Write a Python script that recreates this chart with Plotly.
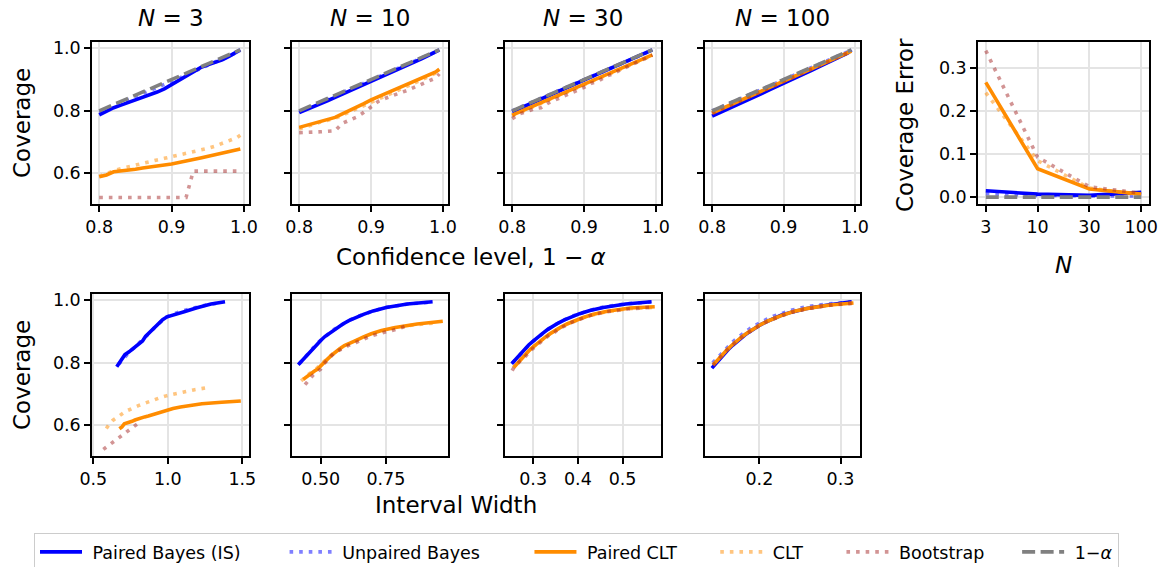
import plotly.graph_objects as go

# ---------------- data ----------------
levels = [0.80, 0.81, 0.82, 0.83, 0.84, 0.85, 0.86, 0.87, 0.88, 0.89, 0.90,
          0.91, 0.92, 0.93, 0.94, 0.95, 0.96, 0.97, 0.98, 0.99, 0.995]
N_labels = ["3", "10", "30", "100"]

# N = 3
pb3_cov = [0.787, 0.800, 0.810, 0.818, 0.826, 0.835, 0.843, 0.850, 0.860, 0.870, 0.884,
           0.898, 0.911, 0.925, 0.938, 0.947, 0.955, 0.963, 0.975, 0.988, 0.995]
pb3_w = [0.657, 0.675, 0.690, 0.700, 0.712, 0.740, 0.760, 0.775, 0.805, 0.830, 0.850,
         0.880, 0.905, 0.935, 0.965, 0.995, 1.060, 1.110, 1.190, 1.290, 1.384]
ub3_cov = [0.795, 0.806, 0.816, 0.826, 0.836, 0.846, 0.855, 0.864, 0.874, 0.884, 0.894,
           0.904, 0.915, 0.926, 0.936, 0.946, 0.956, 0.965, 0.975, 0.986, 0.992]
ub3_w = [0.670, 0.690, 0.705, 0.725, 0.745, 0.770, 0.790, 0.810, 0.835, 0.855, 0.875,
         0.895, 0.915, 0.940, 0.965, 0.990, 1.040, 1.090, 1.170, 1.270, 1.360]
pc3_cov = [0.589, 0.595, 0.605, 0.607, 0.610, 0.613, 0.617, 0.621, 0.624, 0.627, 0.630,
           0.634, 0.639, 0.644, 0.649, 0.654, 0.659, 0.664, 0.669, 0.674, 0.678]
pc3_w = [0.675, 0.692, 0.708, 0.724, 0.742, 0.760, 0.779, 0.799, 0.821, 0.844, 0.869,
         0.895, 0.925, 0.957, 0.993, 1.035, 1.085, 1.146, 1.229, 1.361, 1.490]
clt3_cov = [0.590, 0.600, 0.608, 0.615, 0.621, 0.627, 0.633, 0.638, 0.643, 0.648, 0.653,
            0.658, 0.663, 0.668, 0.674, 0.680, 0.687, 0.695, 0.703, 0.714, 0.722]
clt3_w = [0.587, 0.600, 0.614, 0.628, 0.644, 0.660, 0.676, 0.693, 0.712, 0.732, 0.753,
          0.776, 0.802, 0.830, 0.862, 0.898, 0.941, 0.994, 1.065, 1.180, 1.286]
bs3_cov = [0.523, 0.523, 0.523, 0.523, 0.523, 0.523, 0.523, 0.523, 0.523, 0.523, 0.523,
           0.523, 0.523, 0.607, 0.607, 0.607, 0.607, 0.607, 0.607, 0.607, 0.607]
bs3_w = [0.567, 0.567, 0.567, 0.567, 0.567, 0.567, 0.567, 0.567, 0.567, 0.567, 0.567,
         0.567, 0.567, 0.802, 0.802, 0.802, 0.802, 0.802, 0.802, 0.802, 0.802]

# N = 10
pb10_cov = [0.794, 0.803, 0.813, 0.823, 0.833, 0.843, 0.853, 0.863, 0.873, 0.884, 0.894,
            0.904, 0.914, 0.924, 0.935, 0.945, 0.955, 0.966, 0.977, 0.988, 0.995]
pb10_w = [0.414, 0.424, 0.433, 0.443, 0.454, 0.465, 0.477, 0.489, 0.502, 0.516, 0.532,
          0.548, 0.566, 0.585, 0.608, 0.633, 0.664, 0.701, 0.751, 0.832, 0.929]
ub10_cov = [0.797, 0.807, 0.817, 0.827, 0.837, 0.847, 0.857, 0.867, 0.877, 0.887, 0.897,
            0.907, 0.917, 0.927, 0.937, 0.947, 0.957, 0.967, 0.978, 0.988, 0.994]
ub10_w = [0.418, 0.428, 0.437, 0.447, 0.458, 0.469, 0.481, 0.493, 0.506, 0.520, 0.536,
          0.552, 0.570, 0.589, 0.612, 0.637, 0.668, 0.705, 0.756, 0.836, 0.925]
pc10_cov = [0.747, 0.754, 0.761, 0.768, 0.773, 0.779, 0.790, 0.800, 0.811, 0.823, 0.835,
            0.845, 0.855, 0.864, 0.872, 0.882, 0.893, 0.903, 0.913, 0.924, 0.933]
pc10_w = [0.433, 0.443, 0.453, 0.464, 0.475, 0.487, 0.499, 0.511, 0.525, 0.540, 0.556,
          0.573, 0.591, 0.612, 0.636, 0.662, 0.694, 0.733, 0.786, 0.870, 0.968]
clt10_cov = [0.742, 0.750, 0.757, 0.764, 0.770, 0.776, 0.786, 0.796, 0.806, 0.817, 0.828,
             0.838, 0.848, 0.857, 0.866, 0.876, 0.887, 0.898, 0.909, 0.921, 0.928]
clt10_w = [0.425, 0.435, 0.444, 0.455, 0.466, 0.477, 0.489, 0.501, 0.515, 0.530, 0.545,
           0.562, 0.580, 0.600, 0.623, 0.649, 0.680, 0.718, 0.770, 0.853, 0.950]
bs10_cov = [0.730, 0.730, 0.732, 0.733, 0.734, 0.736, 0.760, 0.770, 0.780, 0.795, 0.812,
            0.830, 0.840, 0.850, 0.857, 0.865, 0.875, 0.885, 0.895, 0.905, 0.918]
bs10_w = [0.440, 0.440, 0.442, 0.443, 0.445, 0.447, 0.470, 0.485, 0.500, 0.510, 0.530,
          0.550, 0.570, 0.590, 0.610, 0.635, 0.660, 0.690, 0.730, 0.780, 0.830]

# N = 30
pb30_cov = [0.797, 0.807, 0.817, 0.827, 0.837, 0.847, 0.857, 0.867, 0.877, 0.887, 0.897,
            0.907, 0.917, 0.927, 0.937, 0.947, 0.957, 0.967, 0.977, 0.988, 0.995]
pb30_w = [0.252, 0.258, 0.264, 0.270, 0.276, 0.283, 0.290, 0.298, 0.306, 0.314, 0.324,
          0.333, 0.344, 0.356, 0.370, 0.385, 0.404, 0.427, 0.457, 0.507, 0.565]
ub30_cov = [0.800, 0.810, 0.819, 0.829, 0.839, 0.849, 0.859, 0.869, 0.879, 0.889, 0.899,
            0.909, 0.919, 0.929, 0.939, 0.949, 0.959, 0.969, 0.979, 0.989, 0.994]
ub30_w = [0.254, 0.260, 0.266, 0.272, 0.278, 0.285, 0.292, 0.300, 0.308, 0.316, 0.326,
          0.335, 0.346, 0.358, 0.372, 0.387, 0.406, 0.429, 0.459, 0.509, 0.563]
pc30_cov = [0.786, 0.796, 0.806, 0.816, 0.826, 0.836, 0.846, 0.856, 0.866, 0.875, 0.885,
            0.895, 0.905, 0.915, 0.925, 0.935, 0.945, 0.955, 0.965, 0.975, 0.979]
pc30_w = [0.257, 0.263, 0.269, 0.275, 0.282, 0.289, 0.296, 0.304, 0.312, 0.320, 0.330,
          0.340, 0.351, 0.363, 0.377, 0.393, 0.412, 0.435, 0.466, 0.517, 0.572]
clt30_cov = [0.784, 0.794, 0.804, 0.814, 0.824, 0.834, 0.844, 0.854, 0.864, 0.873, 0.883,
             0.893, 0.903, 0.913, 0.923, 0.933, 0.943, 0.953, 0.963, 0.973, 0.977]
clt30_w = [0.255, 0.261, 0.267, 0.273, 0.280, 0.287, 0.294, 0.302, 0.310, 0.318, 0.328,
           0.338, 0.349, 0.361, 0.375, 0.391, 0.410, 0.433, 0.464, 0.515, 0.570]
bs30_cov = [0.775, 0.790, 0.797, 0.806, 0.810, 0.825, 0.835, 0.845, 0.855, 0.862, 0.875,
            0.888, 0.895, 0.910, 0.918, 0.930, 0.940, 0.952, 0.962, 0.972, 0.978]
bs30_w = [0.253, 0.259, 0.265, 0.271, 0.277, 0.284, 0.291, 0.299, 0.307, 0.315, 0.325,
          0.335, 0.346, 0.358, 0.371, 0.387, 0.406, 0.429, 0.459, 0.510, 0.567]

# N = 100
pb100_cov = [0.783, 0.793, 0.804, 0.814, 0.825, 0.835, 0.846, 0.856, 0.867, 0.877, 0.888,
             0.898, 0.909, 0.920, 0.930, 0.941, 0.952, 0.962, 0.973, 0.985, 0.995]
pb100_w = [0.1415, 0.1448, 0.1480, 0.1515, 0.1551, 0.1590, 0.1630, 0.1671, 0.1716, 0.1765, 0.1817,
           0.1872, 0.1933, 0.2001, 0.2077, 0.2164, 0.2268, 0.2396, 0.2568, 0.2844, 0.3137]
ub100_cov = [0.800, 0.809, 0.819, 0.829, 0.839, 0.849, 0.859, 0.869, 0.879, 0.889, 0.899,
             0.909, 0.919, 0.929, 0.939, 0.949, 0.959, 0.969, 0.979, 0.989, 0.994]
ub100_w = [0.1425, 0.1458, 0.1490, 0.1525, 0.1561, 0.1600, 0.1640, 0.1681, 0.1726, 0.1775, 0.1827,
           0.1882, 0.1943, 0.2011, 0.2087, 0.2174, 0.2278, 0.2406, 0.2578, 0.2854, 0.3147]
pc100_cov = [0.793, 0.803, 0.813, 0.823, 0.833, 0.843, 0.853, 0.863, 0.873, 0.883, 0.893,
             0.903, 0.913, 0.923, 0.933, 0.943, 0.953, 0.964, 0.974, 0.985, 0.991]
pc100_w = [0.1430, 0.1463, 0.1496, 0.1531, 0.1568, 0.1607, 0.1647, 0.1689, 0.1735, 0.1784, 0.1836,
           0.1892, 0.1954, 0.2022, 0.2099, 0.2187, 0.2292, 0.2421, 0.2595, 0.2874, 0.3160]
clt100_cov = [0.795, 0.804, 0.814, 0.824, 0.834, 0.844, 0.854, 0.864, 0.874, 0.884, 0.894,
              0.904, 0.914, 0.924, 0.934, 0.944, 0.954, 0.964, 0.975, 0.985, 0.991]
clt100_w = [0.1433, 0.1466, 0.1499, 0.1534, 0.1571, 0.1610, 0.1650, 0.1692, 0.1738, 0.1787, 0.1839,
            0.1895, 0.1957, 0.2025, 0.2102, 0.2190, 0.2295, 0.2424, 0.2598, 0.2877, 0.3163]
bs100_cov = [0.792, 0.802, 0.812, 0.822, 0.832, 0.842, 0.852, 0.862, 0.872, 0.882, 0.892,
             0.902, 0.912, 0.922, 0.932, 0.942, 0.952, 0.963, 0.973, 0.984, 0.990]
bs100_w = [0.1428, 0.1461, 0.1494, 0.1529, 0.1566, 0.1605, 0.1645, 0.1687, 0.1733, 0.1782, 0.1834,
           0.1890, 0.1952, 0.2020, 0.2097, 0.2185, 0.2290, 0.2419, 0.2593, 0.2872, 0.3158]

# coverage error vs N
err_pb = [0.015, 0.007, 0.004, 0.011]
err_ub = [0.008, 0.004, 0.003, 0.003]
err_pc = [0.267, 0.066, 0.019, 0.007]
err_clt = [0.243, 0.085, 0.021, 0.005]
err_bs = [0.341, 0.093, 0.024, 0.009]
err_nom = [0.0, 0.0, 0.0, 0.0]

panel_titles = ["3", "10", "30", "100"]

# ---------------- styles ----------------
W, H = 1163, 567
MB = 70            # bottom margin reserved (legend lives there)
HP = H - MB        # plot-area height in px
DOT = "3.6px,6px"
DASH = "13px,5.5px"
LW = 3.6
methods = [
    dict(name="Paired Bayes (IS)", color="#0000ff", dash="solid"),
    dict(name="Unpaired Bayes", color="rgba(0,0,255,0.5)", dash=DOT),
    dict(name="Paired CLT", color="#ff8c00", dash="solid"),
    dict(name="CLT", color="rgba(255,140,0,0.5)", dash=DOT),
    dict(name="Bootstrap", color="rgba(165,42,42,0.5)", dash=DOT),
    dict(name="1−<i>α</i>", color="#808080", dash=DASH),
]
NB = "\u00a0"
trail_pad = [7, 8, 6, 6, 5, 0]

top_cov = [
    [pb3_cov, ub3_cov, pc3_cov, clt3_cov, bs3_cov],
    [pb10_cov, ub10_cov, pc10_cov, clt10_cov, bs10_cov],
    [pb30_cov, ub30_cov, pc30_cov, clt30_cov, bs30_cov],
    [pb100_cov, ub100_cov, pc100_cov, clt100_cov, bs100_cov],
]
bot_w = [
    [pb3_w, ub3_w, pc3_w, clt3_w, bs3_w],
    [pb10_w, ub10_w, pc10_w, clt10_w, bs10_w],
    [pb30_w, ub30_w, pc30_w, clt30_w, bs30_w],
    [pb100_w, ub100_w, pc100_w, clt100_w, bs100_w],
]
err_series = [err_pb, err_ub, err_pc, err_clt, err_bs, err_nom]

fig = go.Figure()

def line_of(m):
    return dict(color=m["color"], width=LW, dash=m["dash"])

def legname(i):
    return NB + methods[i]["name"] + NB * trail_pad[i]

# top row: axes 1..4
for p in range(4):
    ax = "" if p == 0 else str(p + 1)
    for i in range(5):
        fig.add_trace(go.Scatter(x=levels, y=top_cov[p][i], mode="lines",
                                 line=line_of(methods[i]), name=legname(i),
                                 legendgroup=str(i), showlegend=(p == 0),
                                 xaxis="x" + ax, yaxis="y" + ax, hoverinfo="skip"))
    fig.add_trace(go.Scatter(x=levels, y=levels, mode="lines",
                             line=line_of(methods[5]), name=legname(5),
                             legendgroup="5", showlegend=(p == 0),
                             xaxis="x" + ax, yaxis="y" + ax, hoverinfo="skip"))

# error panel: axis 5
for i in range(6):
    fig.add_trace(go.Scatter(x=N_labels, y=err_series[i], mode="lines",
                             line=line_of(methods[i]), name=legname(i),
                             legendgroup=str(i), showlegend=False,
                             xaxis="x5", yaxis="y5", hoverinfo="skip"))

# bottom row: axes 6..9
for p in range(4):
    ax = str(p + 6)
    for i in range(5):
        fig.add_trace(go.Scatter(x=bot_w[p][i], y=top_cov[p][i], mode="lines",
                                 line=line_of(methods[i]), name=legname(i),
                                 legendgroup=str(i), showlegend=False,
                                 xaxis="x" + ax, yaxis="y" + ax, hoverinfo="skip"))

# ---------------- layout ----------------
def fx(px):
    return px / W

def fy(py):
    return 1 - py / HP

def px_x(a, b):
    return [fx(a), fx(b)]

def px_y(top, bottom):
    return [fy(bottom), fy(top)]

top_dom_y = px_y(42, 204)
bot_dom_y = px_y(294, 456)
x_doms = [px_x(92, 249), px_x(292, 448), px_x(505, 661), px_x(705, 860)]
err_dom_x = px_x(978, 1149)

TICKF = dict(family="DejaVu Sans", size=17.5, color="black")
common = dict(showline=True, linecolor="black", linewidth=1.5, mirror=True,
              ticks="outside", ticklen=6, tickwidth=1.5, tickcolor="black",
              showgrid=True, gridcolor="#e4e4e4", gridwidth=1.5, zeroline=False,
              tickfont=TICKF, automargin=False)

layout = dict(width=W, height=H, margin=dict(l=0, r=0, t=0, b=MB, autoexpand=False),
              paper_bgcolor="white", plot_bgcolor="white",
              font=dict(family="DejaVu Sans", color="black"),
              showlegend=True)

bot_ranges = [[0.491, 1.545], [0.39, 0.988], [0.237, 0.586], [0.133, 0.324]]
bot_ticks = [[0.5, 1.0, 1.5], [0.5, 0.75], [0.3, 0.4, 0.5], [0.2, 0.3]]
bot_fmt = [".1f", ".2f", ".1f", ".1f"]

for p in range(4):
    k = "" if p == 0 else str(p + 1)
    layout["xaxis" + k] = dict(common, domain=x_doms[p], anchor="y" + k,
                               range=[0.79, 1.007], tickvals=[0.8, 0.9, 1.0],
                               tickformat=".1f")
    layout["yaxis" + k] = dict(common, domain=top_dom_y, anchor="x" + k,
                               range=[0.502, 1.02], tickvals=[0.6, 0.8, 1.0],
                               tickformat=".1f", showticklabels=(p == 0))
    kb = str(p + 6)
    layout["xaxis" + kb] = dict(common, domain=x_doms[p], anchor="y" + kb,
                                range=bot_ranges[p], tickvals=bot_ticks[p],
                                tickformat=bot_fmt[p])
    layout["yaxis" + kb] = dict(common, domain=bot_dom_y, anchor="x" + kb,
                                range=[0.502, 1.02], tickvals=[0.6, 0.8, 1.0],
                                tickformat=".1f", showticklabels=(p == 0))

layout["xaxis5"] = dict(common, domain=err_dom_x, anchor="y5", type="category",
                        range=[-0.15, 3.15])
layout["yaxis5"] = dict(common, domain=top_dom_y, anchor="x5",
                        range=[-0.016, 0.361], tickvals=[0.0, 0.1, 0.2, 0.3],
                        tickformat=".1f")

layout["legend"] = dict(orientation="h", x=34 / W, y=1 - 533 / H,
                        xref="container", yref="container",
                        xanchor="left", yanchor="top",
                        bgcolor="white", bordercolor="#cccccc", borderwidth=1,
                        font=dict(family="DejaVu Sans", size=17.5, color="black"),
                        itemwidth=42, traceorder="normal", tracegroupgap=0)

LAB = dict(family="DejaVu Sans", size=23, color="black")

def label(text, x, y, angle=0):
    return dict(text=text, x=fx(x), y=fy(y), xref="paper", yref="paper",
                showarrow=False, font=LAB, textangle=angle,
                xanchor="center", yanchor="middle")

ann = []
centers = [(92 + 249) / 2, (292 + 448) / 2, (505 + 661) / 2, (705 + 860) / 2]
for p in range(4):
    ann.append(label("<i>N</i> = " + panel_titles[p], centers[p], 18))
ann.append(label("Coverage", 22, 123, -90))
ann.append(label("Coverage", 22, 375, -90))
ann.append(label("Confidence level, 1 − <i>α</i>", 471, 257))
ann.append(label("Interval Width", 456, 505))
ann.append(label("Coverage Error", 905, 125, -90))
ann.append(label("<i>N</i>", 1063, 265))
layout["annotations"] = ann

fig.update_layout(**layout)
fig.write_html("out.html", config={"displayModeBar": False},
               post_script="document.body.style.margin='0';document.body.style.overflow='hidden';")
